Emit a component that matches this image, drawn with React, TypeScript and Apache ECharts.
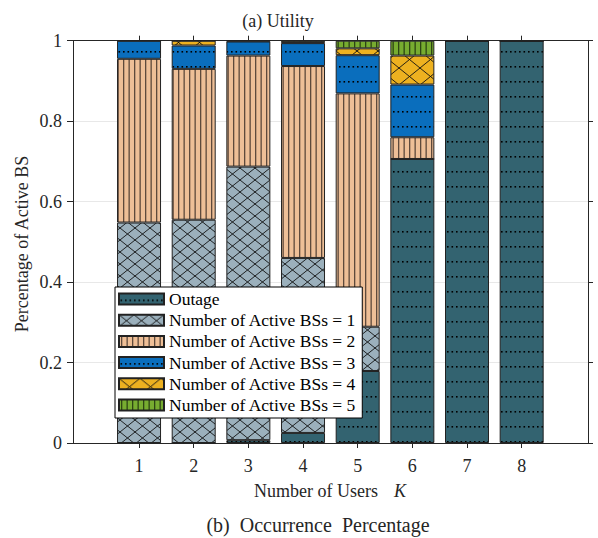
import React, { useEffect, useRef } from "react";
import * as echarts from "echarts";

const users = ["1", "2", "3", "4", "5", "6", "7", "8"];
const seriesNames = [
  "Outage",
  "Number of Active BSs = 1",
  "Number of Active BSs = 2",
  "Number of Active BSs = 3",
  "Number of Active BSs = 4",
  "Number of Active BSs = 5",
];
const outage = [0, 0, 0.007, 0.025, 0.179, 0.706, 1.0, 1.0];
const bs1 = [0.548, 0.555, 0.68, 0.435, 0.11, 0, 0, 0];
const bs2 = [0.407, 0.375, 0.276, 0.477, 0.58, 0.054, 0, 0];
const bs3 = [0.045, 0.058, 0.035, 0.057, 0.095, 0.131, 0, 0];
const bs4 = [0, 0.012, 0.002, 0.002, 0.017, 0.072, 0, 0];
const bs5 = [0, 0, 0, 0.004, 0.019, 0.037, 0, 0];
const yTicks = [0, 0.2, 0.4, 0.6, 0.8, 1];

const FONT = "'Liberation Serif', 'Times New Roman', serif";
const AXIS = "#262626";

type Drawer = (ctx: CanvasRenderingContext2D, w: number, h: number) => void;

function tile(w: number, h: number, bg: string, draw: Drawer) {
  const c = document.createElement("canvas");
  c.width = w;
  c.height = h;
  const ctx = c.getContext("2d")!;
  ctx.fillStyle = bg;
  ctx.fillRect(0, 0, w, h);
  draw(ctx, w, h);
  return { image: c, repeat: "repeat", imageWidth: w, imageHeight: h } as any;
}

const dots: Drawer = (ctx) => {
  ctx.fillStyle = "#000";
  ctx.fillRect(1.5, 6, 1.6, 1.6);
  ctx.fillRect(6, 6, 1.6, 1.6);
};
const vlines =
  (col: string): Drawer =>
  (ctx, w, h) => {
    ctx.fillStyle = col;
    ctx.fillRect(2, 0, 1.3, h);
    ctx.fillRect(7.5, 0, 1.3, h);
  };
const cross: Drawer = (ctx, w, h) => {
  ctx.strokeStyle = "#111";
  ctx.lineWidth = 0.9;
  ctx.beginPath();
  for (const dx of [-w, 0, w]) {
    for (const dy of [-h, 0, h]) {
      ctx.moveTo(dx, dy);
      ctx.lineTo(dx + w, dy + h);
      ctx.moveTo(dx + w, dy);
      ctx.lineTo(dx, dy + h);
    }
  }
  ctx.stroke();
};

export default function App() {
  const ref = useRef<HTMLDivElement>(null);
  useEffect(() => {
    if (!ref.current) return;
    const chart = echarts.init(ref.current, undefined, { renderer: "svg" });
    const fills = [
      tile(9, 15, "#336370", dots),
      tile(15, 12, "#9BB0BC", cross),
      tile(11, 4, "#EEBF97", vlines("rgba(45,35,30,0.75)")),
      tile(9, 15, "#0A6EBD", dots),
      tile(21, 17, "#EDB120", cross),
      tile(11, 4, "#77AC30", vlines("rgba(20,35,10,0.75)")),
    ];
    const datas = [outage, bs1, bs2, bs3, bs4, bs5];
    const top = 40.7;
    const bottom = 95;
    const tickLine = { color: AXIS, width: 1 };
    const option: any = {
      animation: false,
      textStyle: { fontFamily: FONT },
      grid: [
        { left: 111.7, right: 49, top, bottom },
        { left: 73, right: 10, top, bottom },
      ],
      xAxis: [
        {
          gridIndex: 0,
          type: "category",
          data: users,
          axisLine: { show: false, onZero: false },
          axisTick: { show: true, alignWithLabel: true, length: 5, lineStyle: tickLine },
          axisLabel: { color: AXIS, fontSize: 18, margin: 14, fontFamily: FONT },
          splitLine: { show: false },
        },
        {
          gridIndex: 0,
          type: "category",
          position: "top",
          data: users,
          axisLine: { show: false, onZero: false },
          axisTick: { show: true, alignWithLabel: true, length: 5, lineStyle: tickLine },
          axisLabel: { show: false },
          splitLine: { show: false },
        },
        {
          gridIndex: 1,
          type: "value",
          min: 0,
          max: 1,
          axisLine: { show: true, onZero: false, lineStyle: tickLine },
          axisTick: { show: false },
          axisLabel: { show: false },
          splitLine: { show: false },
        },
        {
          gridIndex: 1,
          type: "value",
          position: "top",
          min: 0,
          max: 1,
          axisLine: { show: true, onZero: false, lineStyle: tickLine },
          axisTick: { show: false },
          axisLabel: { show: false },
          splitLine: { show: false },
        },
      ],
      yAxis: [
        { gridIndex: 0, type: "value", min: 0, max: 1, show: false },
        {
          gridIndex: 1,
          type: "value",
          min: yTicks[0],
          max: yTicks[yTicks.length - 1],
          interval: 0.2,
          axisLine: { show: true, onZero: false, lineStyle: tickLine },
          axisTick: { show: true, length: 6, lineStyle: tickLine },
          axisLabel: { color: AXIS, fontSize: 18, margin: 11, fontFamily: FONT },
          splitLine: { show: true, lineStyle: { color: "#e8e8e8", width: 1 } },
        },
        {
          gridIndex: 1,
          type: "value",
          position: "right",
          min: yTicks[0],
          max: yTicks[yTicks.length - 1],
          interval: 0.2,
          axisLine: { show: true, onZero: false, lineStyle: tickLine },
          axisTick: { show: true, length: 5, lineStyle: tickLine },
          axisLabel: { show: false },
          splitLine: { show: false },
        },
      ],
      legend: {
        orient: "vertical",
        left: 115,
        top: 287,
        itemWidth: 45,
        itemHeight: 11,
        itemGap: 3.2,
        padding: [3, 6, 4, 3],
        backgroundColor: "#fff",
        borderColor: "#000",
        borderWidth: 1,
        borderRadius: 0,
        icon: "rect",
        textStyle: { fontSize: 17.5, fontFamily: FONT, color: "#000" },
        data: seriesNames,
        z: 10,
      },
      series: seriesNames.map((name, i) => ({
        type: "bar",
        name,
        stack: "total",
        xAxisIndex: 0,
        yAxisIndex: 0,
        barWidth: 44,
        data: datas[i],
        itemStyle: { color: fills[i], borderColor: "#222", borderWidth: 1 },
        emphasis: { disabled: true },
      })),
      graphic: [
        {
          type: "text",
          x: 278,
          y: 21,
          style: {
            text: "(a) Utility",
            fontSize: 18,
            fontFamily: FONT,
            fill: "#262626",
            align: "center",
            verticalAlign: "middle",
          },
        },
        {
          type: "text",
          x: 254,
          y: 491,
          style: {
            text: "Number of Users",
            fontSize: 18,
            fontFamily: FONT,
            fill: "#262626",
            align: "left",
            verticalAlign: "middle",
          },
        },
        {
          type: "text",
          x: 394,
          y: 491,
          style: {
            text: "K",
            fontSize: 18,
            fontStyle: "italic",
            fontFamily: FONT,
            fill: "#262626",
            align: "left",
            verticalAlign: "middle",
          },
        },
        {
          type: "text",
          x: 318,
          y: 525,
          style: {
            text: "(b)  Occurrence  Percentage",
            fontSize: 20,
            fontFamily: FONT,
            fill: "#262626",
            align: "center",
            verticalAlign: "middle",
          },
        },
        {
          type: "text",
          x: 22,
          y: 244,
          rotation: Math.PI / 2,
          style: {
            text: "Percentage of Active BS",
            fontSize: 18,
            fontFamily: FONT,
            fill: "#262626",
            align: "center",
            verticalAlign: "middle",
          },
        },
      ],
    };
    chart.setOption(option);
    return () => chart.dispose();
  }, []);
  return (
    <div
      ref={ref}
      style={{ position: "absolute", left: 0, top: 0, width: 598, height: 538 }}
    />
  );
}
